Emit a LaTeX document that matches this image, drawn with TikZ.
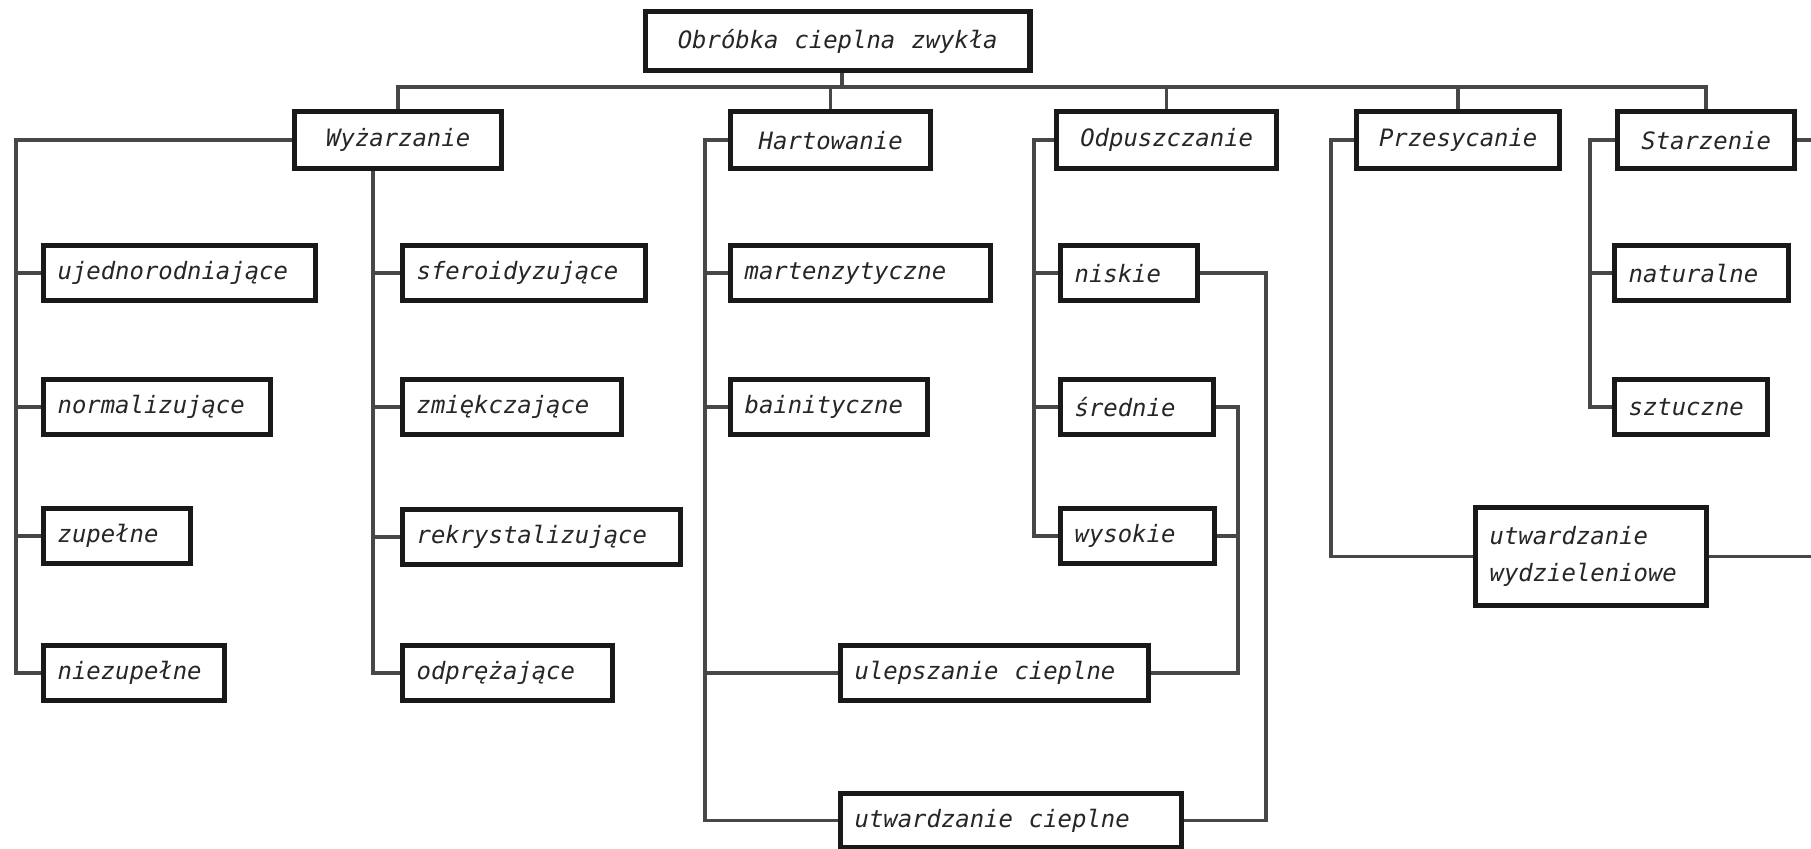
\documentclass[tikz,border=0pt]{standalone}
\usepackage{fontspec}
\newfontfamily\techfont{DejaVu Sans Mono}
\hyphenpenalty=10000
\tikzset{
    block/.style={
        rectangle, draw=black!90, line width=1.5pt, fill=white,
        anchor=north west, minimum height=0.55cm,
        inner xsep=0.14cm, inner ysep=0pt,
        align=left, text=black!85,
        font=\techfont\itshape\fontsize{6.8}{10.5}\selectfont
    },
    head/.style={
        block, minimum height=0.57cm, align=center
    },
    link/.style={
        draw=black!72, line width=1pt
    }
}

\begin{document}
\begin{tikzpicture}[x=0.01cm, y=-0.01cm]
    \useasboundingbox (0,0) rectangle (1811,849);

    % --- Korzen i glowne grupy ---
    \node[head, text width=3.56cm, minimum height=0.59cm] (top) at (643,9) {Obróbka\ \ cieplna\ \ zwykła};
    \node[head, text width=1.79cm] (wyz)  at (292,109)  {Wyżarzanie};
    \node[head, text width=1.72cm] (hart) at (728,109)  {Hartowanie};
    \node[head, text width=1.92cm] (odp)  at (1054,109) {Odpuszczanie};
    \node[head, text width=1.75cm] (prz)  at (1354,109) {Przesycanie};
    \node[head, text width=1.49cm] (sta)  at (1615,109) {Starzenie};

    % --- Wyzarzanie ---
    \node[block, text width=2.44cm] (ujed) at (41,243) {ujednorodniające};
    \node[block, text width=1.99cm] (norm) at (41,377) {normalizujące};
    \node[block, text width=1.19cm] (zup)  at (41,506) {zupełne};
    \node[block, text width=1.53cm] (niez) at (41,643) {niezupełne};
    \node[block, text width=2.15cm] (sfer) at (400,243) {sferoidyzujące};
    \node[block, text width=1.91cm] (zmie) at (400,377) {zmiękczające};
    \node[block, text width=2.50cm] (rekr) at (400,507) {rekrystalizujące};
    \node[block, text width=1.82cm] (odpr) at (400,643) {odprężające};

    % --- Hartowanie ---
    \node[block, text width=2.32cm] (mart) at (728,243) {martenzytyczne};
    \node[block, text width=1.69cm] (bain) at (728,377) {bainityczne};
    \node[block, text width=2.80cm] (ulep) at (838,643) {ulepszanie\ \ cieplne};
    \node[block, text width=3.13cm, minimum height=0.54cm] (utwc) at (838,791) {utwardzanie\ \ cieplne};

    % --- Odpuszczanie ---
    \node[block, text width=1.09cm] (nisk) at (1058,243) {niskie};
    \node[block, text width=1.25cm] (sred) at (1058,377) {średnie};
    \node[block, text width=1.26cm] (wys)  at (1058,506) {wysokie};

    % --- Przesycanie / Starzenie ---
    \node[block, text width=2.03cm, minimum height=0.98cm] (utwd) at (1473,505) {utwardzanie\\wydzieleniowe};
    \node[block, text width=1.46cm] (nat) at (1612,243) {naturalne};
    \node[block, text width=1.25cm] (szt) at (1612,377) {sztuczne};

    % --- Szyna glowna ---
    \coordinate (bus) at (0,87);
    \coordinate (top_s) at (842,0);
    \coordinate (edge) at (1811,0);
    \draw[link] (top.south -| top_s) -- (top_s |- bus);
    \draw[link] (wyz.north) -- (wyz.north |- bus) -- (sta.north |- bus) -- (sta.north);
    \foreach \n in {hart, odp, prz} {
        \draw[link] (\n.north) -- (\n.north |- bus);
    }

    % --- Galezie ---
    \coordinate (wyz_x)  at (16,0);
    \coordinate (wyz_s)  at (373,0);
    \coordinate (hart_x) at (705,0);
    \coordinate (odp_x)  at (1034,0);
    \coordinate (prz_x)  at (1331,0);
    \coordinate (sta_x)  at (1590,0);

    \foreach \c in {ujed, norm, zup, niez} {
        \draw[link] (wyz.west) -| (wyz_x |- \c.west) -- (\c.west);
    }
    \foreach \c in {sfer, zmie, rekr, odpr} {
        \draw[link] (wyz.south -| wyz_s) |- (\c.west);
    }
    \foreach \c in {mart, bain, ulep, utwc} {
        \draw[link] (hart.west) -| (hart_x |- \c.west) -- (\c.west);
    }
    \foreach \c in {nisk, sred, wys} {
        \draw[link] (odp.west) -| (odp_x |- \c.west) -- (\c.west);
    }
    \draw[link] (prz.west) -| (prz_x |- utwd.west) -- (utwd.west);
    \foreach \c in {nat, szt} {
        \draw[link] (sta.west) -| (sta_x |- \c.west) -- (\c.west);
    }

    % --- Polaczenia odpuszczania ---
    \coordinate (nisk_x) at (1266,0);
    \coordinate (sred_x) at (1238,0);
    \draw[link] (nisk.east) -| (nisk_x |- utwc.east) -- (utwc.east);
    \draw[link] (sred.east) -| (sred_x |- ulep.east) -- (ulep.east);
    \draw[link] (wys.east) -- (wys.east -| sred_x);

    % --- Wyjscia poza rysunek ---
    \draw[link] (sta.east) -- (sta.east -| edge);
    \draw[link] (utwd.east) -- (utwd.east -| edge);

\end{tikzpicture}
\end{document}
